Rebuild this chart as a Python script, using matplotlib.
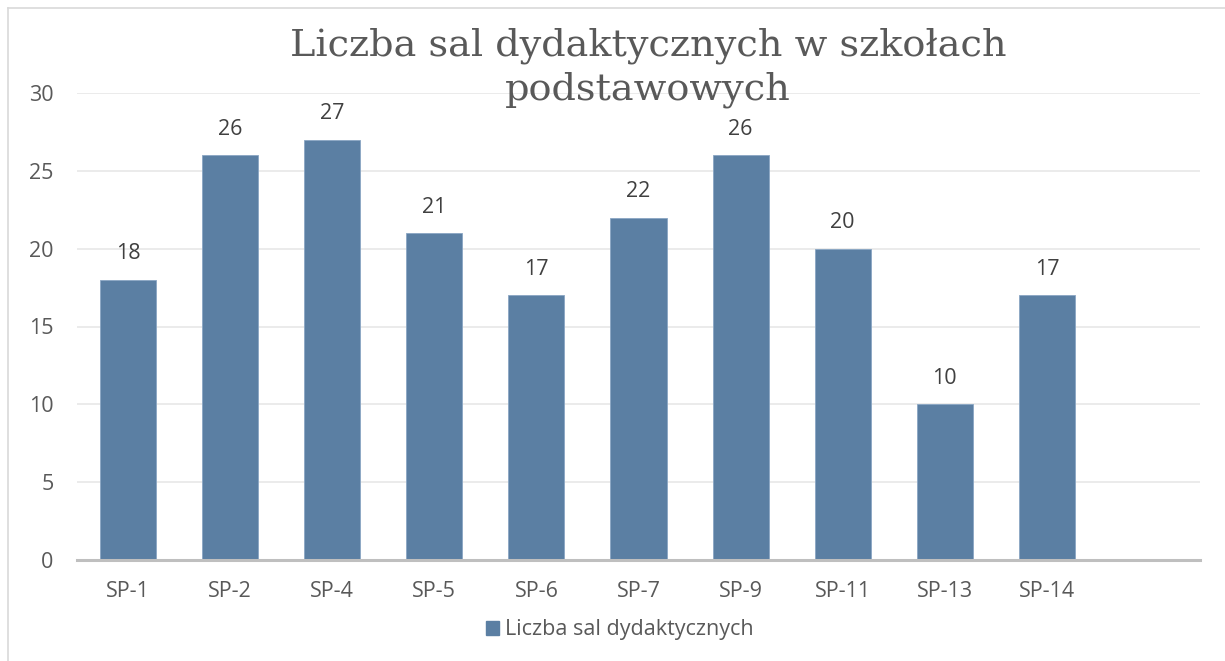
import matplotlib
matplotlib.use("Agg")
import matplotlib.pyplot as plt
from matplotlib.lines import Line2D
from matplotlib.patches import Patch

# data
schools = ["SP-1", "SP-2", "SP-4", "SP-5", "SP-6", "SP-7", "SP-9", "SP-11", "SP-13", "SP-14"]
rooms = [18, 26, 27, 21, 17, 22, 26, 20, 10, 17]
title_lines = ["Liczba sal dydaktycznych w szkołach", "podstawowych"]
series_label = "Liczba sal dydaktycznych"

W, H = 1225, 661
bar_color = "#5b7fa3"
text_color = "#595959"

plt.rcParams["font.family"] = ["Open Sans", "DejaVu Sans"]

fig = plt.figure(figsize=(W / 100, H / 100), dpi=100)
ax = fig.add_axes([77 / W, 1 - 560 / H, (1200 - 77) / W, (560 - 93) / H])

x = range(len(schools))
bars = ax.bar(x, rooms, width=0.55, color=bar_color, edgecolor="#8aa6c4",
              linewidth=0.6, zorder=3)
for b, v in zip(bars, rooms):
    ax.text(b.get_x() + b.get_width() / 2, v + 1.0, str(v), ha="center",
            va="bottom", fontsize=15.5, color="#404040")

ax.set_xlim(-0.5, 10.5)
ax.set_ylim(0, 30)
ax.set_yticks(range(0, 31, 5))
ax.set_xticks(list(x))
ax.set_xticklabels(schools)
ax.tick_params(axis="both", length=0, labelsize=15.5, labelcolor=text_color)
ax.tick_params(axis="x", pad=15)
ax.tick_params(axis="y", pad=17)
ax.grid(axis="y", color="#e8e8e8", linewidth=1.2, zorder=0)
for s in ["top", "right", "left"]:
    ax.spines[s].set_visible(False)
ax.spines["bottom"].set_color("#bfbfbf")
ax.spines["bottom"].set_linewidth(2.2)
ax.spines["bottom"].set_zorder(4)

# title, one text per line (centred over the chart)
for line, base_y in zip(title_lines, [55, 100]):
    fig.text(648 / W, 1 - base_y / H, line, ha="center", va="baseline",
             fontsize=27.5, color=text_color, family="DejaVu Serif")

handle = Patch(facecolor=bar_color, edgecolor=bar_color)
fig.legend([handle], [series_label], loc="center", bbox_to_anchor=(620 / W, 1 - 630 / H),
           frameon=False, fontsize=15.5, labelcolor=text_color, handlelength=0.6,
           handleheight=0.6, handletextpad=0.3)

# chart area border (left and top)
fig.add_artist(Line2D([8 / W, 8 / W], [0, 1 - 8 / H], color="#d9d9d9", linewidth=1.2))
fig.add_artist(Line2D([8 / W, 1], [1 - 8 / H, 1 - 8 / H], color="#d9d9d9", linewidth=1.2))

fig.savefig("out.png", dpi=100)
